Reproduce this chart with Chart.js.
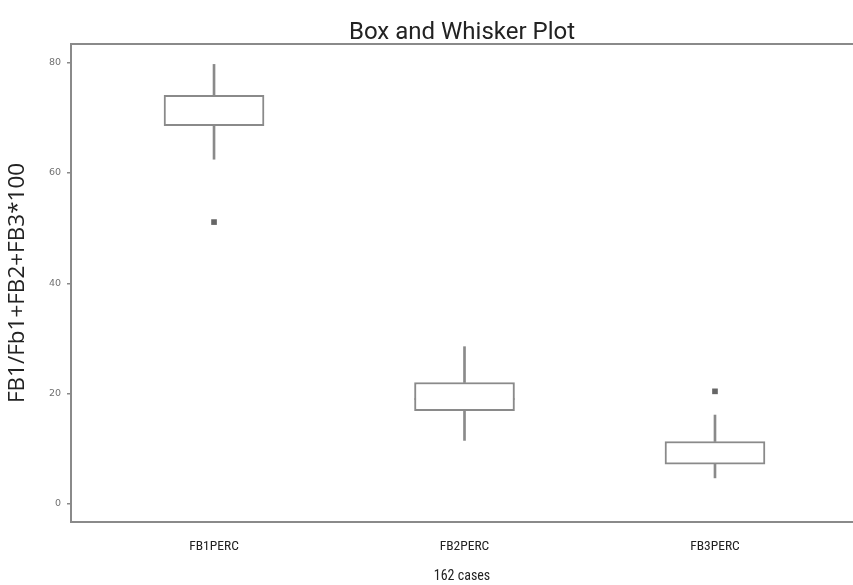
<!DOCTYPE html>
<html>
<head>
<meta charset="utf-8">
<script src="https://cdn.jsdelivr.net/npm/chart.js@4/dist/chart.umd.min.js"></script>
<style>
  html, body { margin: 0; padding: 0; background: #ffffff; }
  #wrap { width: 853px; height: 585px; }
</style>
</head>
<body>
<div id="wrap"><canvas id="c" width="853" height="585"></canvas></div>
<script>
// Box-plot summary per variable
const categories  = ['FB1PERC', 'FB2PERC', 'FB3PERC'];
const whiskerLow  = [62.5, 11.5, 4.7];
const quartile1   = [68.6, 16.9, 7.2];
const medians     = [71.0, 19.0, 9.2];
const quartile3   = [74.1, 22.0, 11.3];
const whiskerHigh = [79.7, 28.5, 16.1];
const outliers    = [51.1, null, 20.4];
const yTicks      = [0, 20, 40, 60, 80];

const lineGray = '#8a8a8a';
const narrow = '"Liberation Sans Narrow", "Roboto Condensed", Roboto, sans-serif';
const xPos = i => i + 1;

const boxData   = categories.map((c, i) => ({ x: xPos(i), y: [quartile1[i], quartile3[i]] }));
const upperData = categories.map((c, i) => ({ x: xPos(i), y: [quartile3[i], whiskerHigh[i]] }));
const lowerData = categories.map((c, i) => ({ x: xPos(i), y: [whiskerLow[i], quartile1[i]] }));
const medData   = categories.map((c, i) => ({ x: xPos(i), y: medians[i] }));
const outData   = categories.map((c, i) => ({ x: xPos(i), y: outliers[i] })).filter(p => p.y !== null);

// closes the frame along the top of the plot area
const topFrame = {
  id: 'topFrame',
  afterDraw(chart) {
    const { ctx, chartArea } = chart;
    ctx.save();
    ctx.strokeStyle = lineGray;
    ctx.lineWidth = 2;
    ctx.beginPath();
    ctx.moveTo(chartArea.left - 1, chartArea.top);
    ctx.lineTo(chartArea.right, chartArea.top);
    ctx.stroke();
    ctx.restore();
  }
};

new Chart(document.getElementById('c'), {
  type: 'bar',
  data: {
    datasets: [
      { data: upperData, backgroundColor: lineGray, borderWidth: 0, barThickness: 2, grouped: false },
      { data: lowerData, backgroundColor: lineGray, borderWidth: 0, barThickness: 2, grouped: false },
      { data: boxData, backgroundColor: '#ffffff', borderColor: lineGray, borderWidth: 2,
        borderSkipped: false, barThickness: 100, grouped: false },
      { type: 'line', data: medData, showLine: false, pointStyle: 'line', pointRadius: 50,
        pointHoverRadius: 50, pointBorderWidth: 2, borderColor: lineGray, pointBorderColor: lineGray },
      { type: 'line', data: outData, showLine: false, pointStyle: 'rect', pointRadius: 4,
        pointHoverRadius: 4, pointBackgroundColor: '#666666', pointBorderColor: '#666666', pointBorderWidth: 0 }
    ]
  },
  options: {
    responsive: false,
    animation: false,
    events: [],
    layout: { padding: 0, autoPadding: false },
    plugins: {
      legend: { display: false },
      tooltip: { enabled: false },
      title: {
        display: true,
        text: 'Box and Whisker Plot',
        fullSize: false,
        color: '#222222',
        font: { family: 'Roboto, sans-serif', size: 24, weight: 'normal', lineHeight: 1 },
        padding: { top: 21, bottom: -1 }
      }
    },
    scales: {
      x: {
        type: 'linear',
        offset: false,
        min: 0.429,
        max: 3.551,
        afterBuildTicks: s => { s.ticks = categories.map((c, i) => ({ value: xPos(i) })); },
        afterFit: s => { s.height = 63; },
        ticks: {
          callback: v => categories[v - 1] || '',
          color: '#222222',
          padding: 16.6,
          maxRotation: 0,
          autoSkip: false,
          font: { family: narrow, size: 13.5 }
        },
        grid: { display: false, drawTicks: false, offset: false },
        border: { display: true, color: lineGray, width: 2 },
        title: {
          display: true,
          text: '162 cases',
          color: '#222222',
          font: { family: narrow, size: 14 },
          padding: { top: 0, bottom: 0 }
        }
      },
      y: {
        min: -3.3,
        max: 83.4,
        afterBuildTicks: s => { s.ticks = yTicks.map(v => ({ value: v })); },
        afterFit: s => { s.width = 71; },
        ticks: {
          color: '#707070',
          padding: 6,
          font: { family: '"DejaVu Sans", sans-serif', size: 9.5 }
        },
        grid: { drawOnChartArea: false, drawTicks: true, tickLength: 4, color: lineGray, lineWidth: 1.5 },
        border: { display: true, color: lineGray, width: 2 },
        title: {
          display: true,
          text: 'FB1/Fb1+FB2+FB3*100',
          color: '#222222',
          font: { family: '"Open Sans", sans-serif', size: 22.5 },
          padding: { top: 4.5, bottom: 0 }
        }
      }
    }
  },
  plugins: [topFrame]
});
</script>
</body>
</html>
